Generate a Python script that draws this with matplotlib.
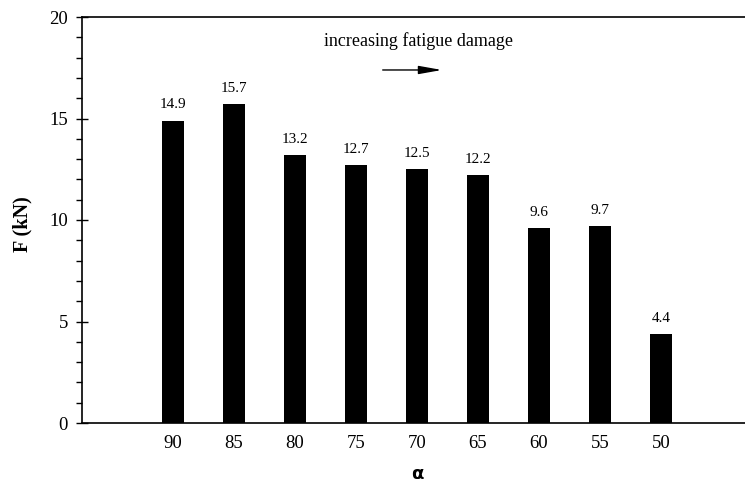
import matplotlib
matplotlib.use("Agg")
import matplotlib.pyplot as plt
from matplotlib.patches import ArrowStyle
from matplotlib.ticker import MultipleLocator

alpha_labels = ["90", "85", "80", "75", "70", "65", "60", "55", "50"]
force_kN = [14.9, 15.7, 13.2, 12.7, 12.5, 12.2, 9.6, 9.7, 4.4]

plt.rcParams["font.family"] = ["Liberation Serif", "DejaVu Serif"]

fig = plt.figure(figsize=(7.45, 4.84), dpi=100)
ax = fig.add_axes([82 / 745, 61 / 484, 663 / 745, 406 / 484])

x = list(range(len(force_kN)))
ax.bar(x, force_kN, width=0.37, color="black")
for xi, v in zip(x, force_kN):
    ax.text(xi, v + 0.6, f"{v:.1f}", ha="center", va="baseline", fontsize=11)

ax.set_xlim(-1.49, 9.38)
ax.set_ylim(0, 20)
ax.set_xticks(x)
ax.set_xticklabels(alpha_labels, fontsize=13.5)
ax.yaxis.set_major_locator(MultipleLocator(5))
ax.yaxis.set_minor_locator(MultipleLocator(1))
ax.tick_params(axis="y", which="major", length=8, width=1, direction="inout",
               labelsize=13.5, pad=6)
ax.tick_params(axis="y", which="minor", length=4, width=1, direction="out")
ax.tick_params(axis="x", length=0, pad=8.5)
ax.spines["right"].set_visible(False)
for s in ("left", "top", "bottom"):
    ax.spines[s].set_linewidth(1.2)

ax.set_ylabel("F (kN)", fontsize=14.5, fontweight="bold")
ax.yaxis.set_label_coords(-0.0754, 0.49)
ax.text(4, -0.149, "α", transform=ax.get_xaxis_transform(), ha="center", va="bottom",
        fontsize=13, fontweight="bold", family=["DejaVu Sans"])

ax.text(4.03, 18.57, "increasing fatigue damage", ha="center", va="baseline", fontsize=13)
ax.annotate("", xy=(4.41, 17.39), xytext=(3.44, 17.39),
            arrowprops=dict(arrowstyle=ArrowStyle("-|>", head_length=1.4, head_width=0.25),
                            color="black", lw=1, mutation_scale=10,
                            shrinkA=0, shrinkB=0))

fig.savefig("out.png", dpi=100)
